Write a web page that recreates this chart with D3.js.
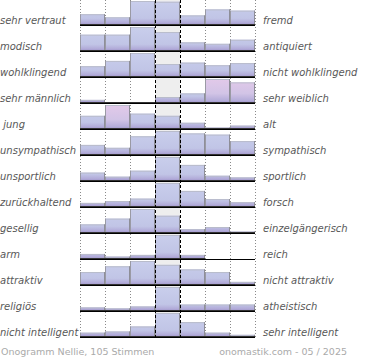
<!DOCTYPE html>
<html><head><meta charset="utf-8">
<script src="https://cdn.jsdelivr.net/npm/d3@7"></script>
<style>
html,body{margin:0;padding:0;background:#fff;}
svg{display:block;}
</style></head>
<body>
<svg id="chart" width="370" height="360"></svg>
<script>
const leftLabels = ["sehr vertraut","modisch","wohlklingend","sehr männlich"," jung","unsympathisch","unsportlich","zurückhaltend","gesellig","arm","attraktiv","religiös","nicht intelligent"];
const rightLabels = ["fremd","antiquiert","nicht wohlklingend","sehr weiblich","alt","sympathisch","sportlich","forsch","einzelgängerisch","reich","nicht attraktiv","atheistisch","sehr intelligent"];
const steps = [1,2,3,4,5,6,7];
const values = [
  [45,32,100,97,40,65,60],
  [68,68,100,79,36,30,47],
  [45,67,100,54,60,49,58],
  [13,1,1,25,40,100,86],
  [55,100,64,55,26,6,14],
  [42,30,78,100,90,85,58],
  [35,18,43,100,67,22,15],
  [17,25,35,100,67,33,20],
  [36,60,100,72,16,25,6],
  [21,10,17,100,17,0,0],
  [54,78,100,84,65,54,13],
  [15,11,19,100,27,27,27],
  [18,23,44,100,62,18,9]
];
const pinkCells = [[3,6],[3,7],[4,2]];
const footerLeft = "Onogramm Nellie, 105 Stimmen";
const footerRight = "onomastik.com - 05 / 2025";

const svg = d3.select("#chart");
const rows = d3.range(leftLabels.length);
const x = d3.scaleBand().domain(steps).range([80,255]).paddingInner(0).paddingOuter(0);
const rowBand = d3.scaleBand().domain(rows).range([-1,337]);
const rowH = rowBand.bandwidth();
const barMax = 24;
const y = d3.scaleLinear().domain([0,100]).range([0,barMax]);
const bottom = r => rowBand(r) + rowH;
const isPink = (r,c) => pinkCells.some(p => p[0]===r && p[1]===c);

const defs = svg.append("defs");
rows.forEach(r => {
  const g = defs.append("linearGradient").attr("id","gb"+r)
    .attr("gradientUnits","userSpaceOnUse").attr("x1",0).attr("x2",0)
    .attr("y1",bottom(r)-barMax).attr("y2",bottom(r));
  g.append("stop").attr("offset",0).attr("stop-color","#c9ceec");
  g.append("stop").attr("offset",0.72).attr("stop-color","#c1c5e6");
  g.append("stop").attr("offset",0.9).attr("stop-color","#b2acd9");
  g.append("stop").attr("offset",1).attr("stop-color","#9f94ca");
  const p = defs.append("linearGradient").attr("id","gp"+r)
    .attr("gradientUnits","userSpaceOnUse").attr("x1",0).attr("x2",0)
    .attr("y1",bottom(r)-barMax).attr("y2",bottom(r));
  p.append("stop").attr("offset",0).attr("stop-color","#e2c9e9");
  p.append("stop").attr("offset",0.6).attr("stop-color","#d2c4e6");
  p.append("stop").attr("offset",0.9).attr("stop-color","#b4acd9");
  p.append("stop").attr("offset",1).attr("stop-color","#9f94ca");
});

// middle column background
svg.append("rect").attr("x",x(4)).attr("y",0).attr("width",x.bandwidth())
  .attr("height",bottom(rows.length-1)).attr("fill","#eeeeee");

// dotted grid
const dotted = [x(1), x(2), x(3), x(6), x(7), x(7)+x.bandwidth()];
svg.append("g").selectAll("line").data(dotted).join("line")
  .attr("x1",d=>d+0.5).attr("x2",d=>d+0.5).attr("y1",0).attr("y2",bottom(rows.length-1))
  .attr("stroke","#8a8a8a").attr("stroke-width",1).attr("stroke-dasharray","1,2");

// bars
const cells = [];
rows.forEach(r => steps.forEach((s,i) => cells.push({r, s, v: values[r][i]})));
const bars = svg.append("g").selectAll("g").data(cells.filter(d=>d.v>0)).join("g");
bars.append("rect")
  .attr("x",d=>x(d.s)).attr("width",x.bandwidth())
  .attr("y",d=>bottom(d.r)-y(d.v)).attr("height",d=>y(d.v))
  .attr("fill",d=> isPink(d.r,d.s) ? `url(#gp${d.r})` : `url(#gb${d.r})`);
bars.append("line")
  .attr("x1",d=>x(d.s)).attr("x2",d=>x(d.s)+x.bandwidth())
  .attr("y1",d=>bottom(d.r)-y(d.v)+0.5).attr("y2",d=>bottom(d.r)-y(d.v)+0.5)
  .attr("stroke","#b9bccb").attr("stroke-width",1);
bars.append("line")
  .attr("x1",d=>x(d.s)+0.5).attr("x2",d=>x(d.s)+0.5)
  .attr("y1",d=>bottom(d.r)-y(d.v)).attr("y2",d=>bottom(d.r))
  .attr("stroke","#9a9aa4").attr("stroke-width",1);
bars.append("line")
  .attr("x1",d=>x(d.s)+x.bandwidth()-0.5).attr("x2",d=>x(d.s)+x.bandwidth()-0.5)
  .attr("y1",d=>bottom(d.r)-y(d.v)).attr("y2",d=>bottom(d.r))
  .attr("stroke","#8e8e98").attr("stroke-width",1);
bars.append("line")
  .attr("x1",d=>x(d.s)).attr("x2",d=>x(d.s)+x.bandwidth())
  .attr("y1",d=>bottom(d.r)-0.5).attr("y2",d=>bottom(d.r)-0.5)
  .attr("stroke","#333").attr("stroke-width",1);

// baselines
svg.append("g").selectAll("line").data(rows).join("line")
  .attr("x1",x(1)).attr("x2",x(7)+x.bandwidth())
  .attr("y1",d=>bottom(d)+0.5).attr("y2",d=>bottom(d)+0.5)
  .attr("stroke","#000").attr("stroke-width",1);

// dashed middle lines
svg.append("g").selectAll("line").data([x(4), x(5)]).join("line")
  .attr("x1",d=>d+0.5).attr("x2",d=>d+0.5).attr("y1",0).attr("y2",bottom(rows.length-1)+1)
  .attr("stroke","#000").attr("stroke-width",1).attr("stroke-dasharray","3,2");

// labels
const font = "DejaVu Sans, sans-serif";
svg.append("g").selectAll("text").data(rows).join("text")
  .attr("x",0).attr("y",d=>bottom(d)-1.5)
  .attr("font-family",font).attr("font-size",10).attr("font-style","italic")
  .attr("fill","#585858").style("white-space","pre")
  .text(d=>leftLabels[d]);
svg.append("g").selectAll("text").data(rows).join("text")
  .attr("x",263).attr("y",d=>bottom(d)-1.5)
  .attr("font-family",font).attr("font-size",10).attr("font-style","italic")
  .attr("fill","#585858")
  .text(d=>rightLabels[d]);

svg.append("text").attr("x",1).attr("y",355)
  .attr("font-family",font).attr("font-size",9.5).attr("fill","#aaaaaa").text(footerLeft);
svg.append("text").attr("x",347).attr("y",355).attr("text-anchor","end")
  .attr("font-family",font).attr("font-size",9.5).attr("fill","#aaaaaa").text(footerRight);
</script>
</body></html>
